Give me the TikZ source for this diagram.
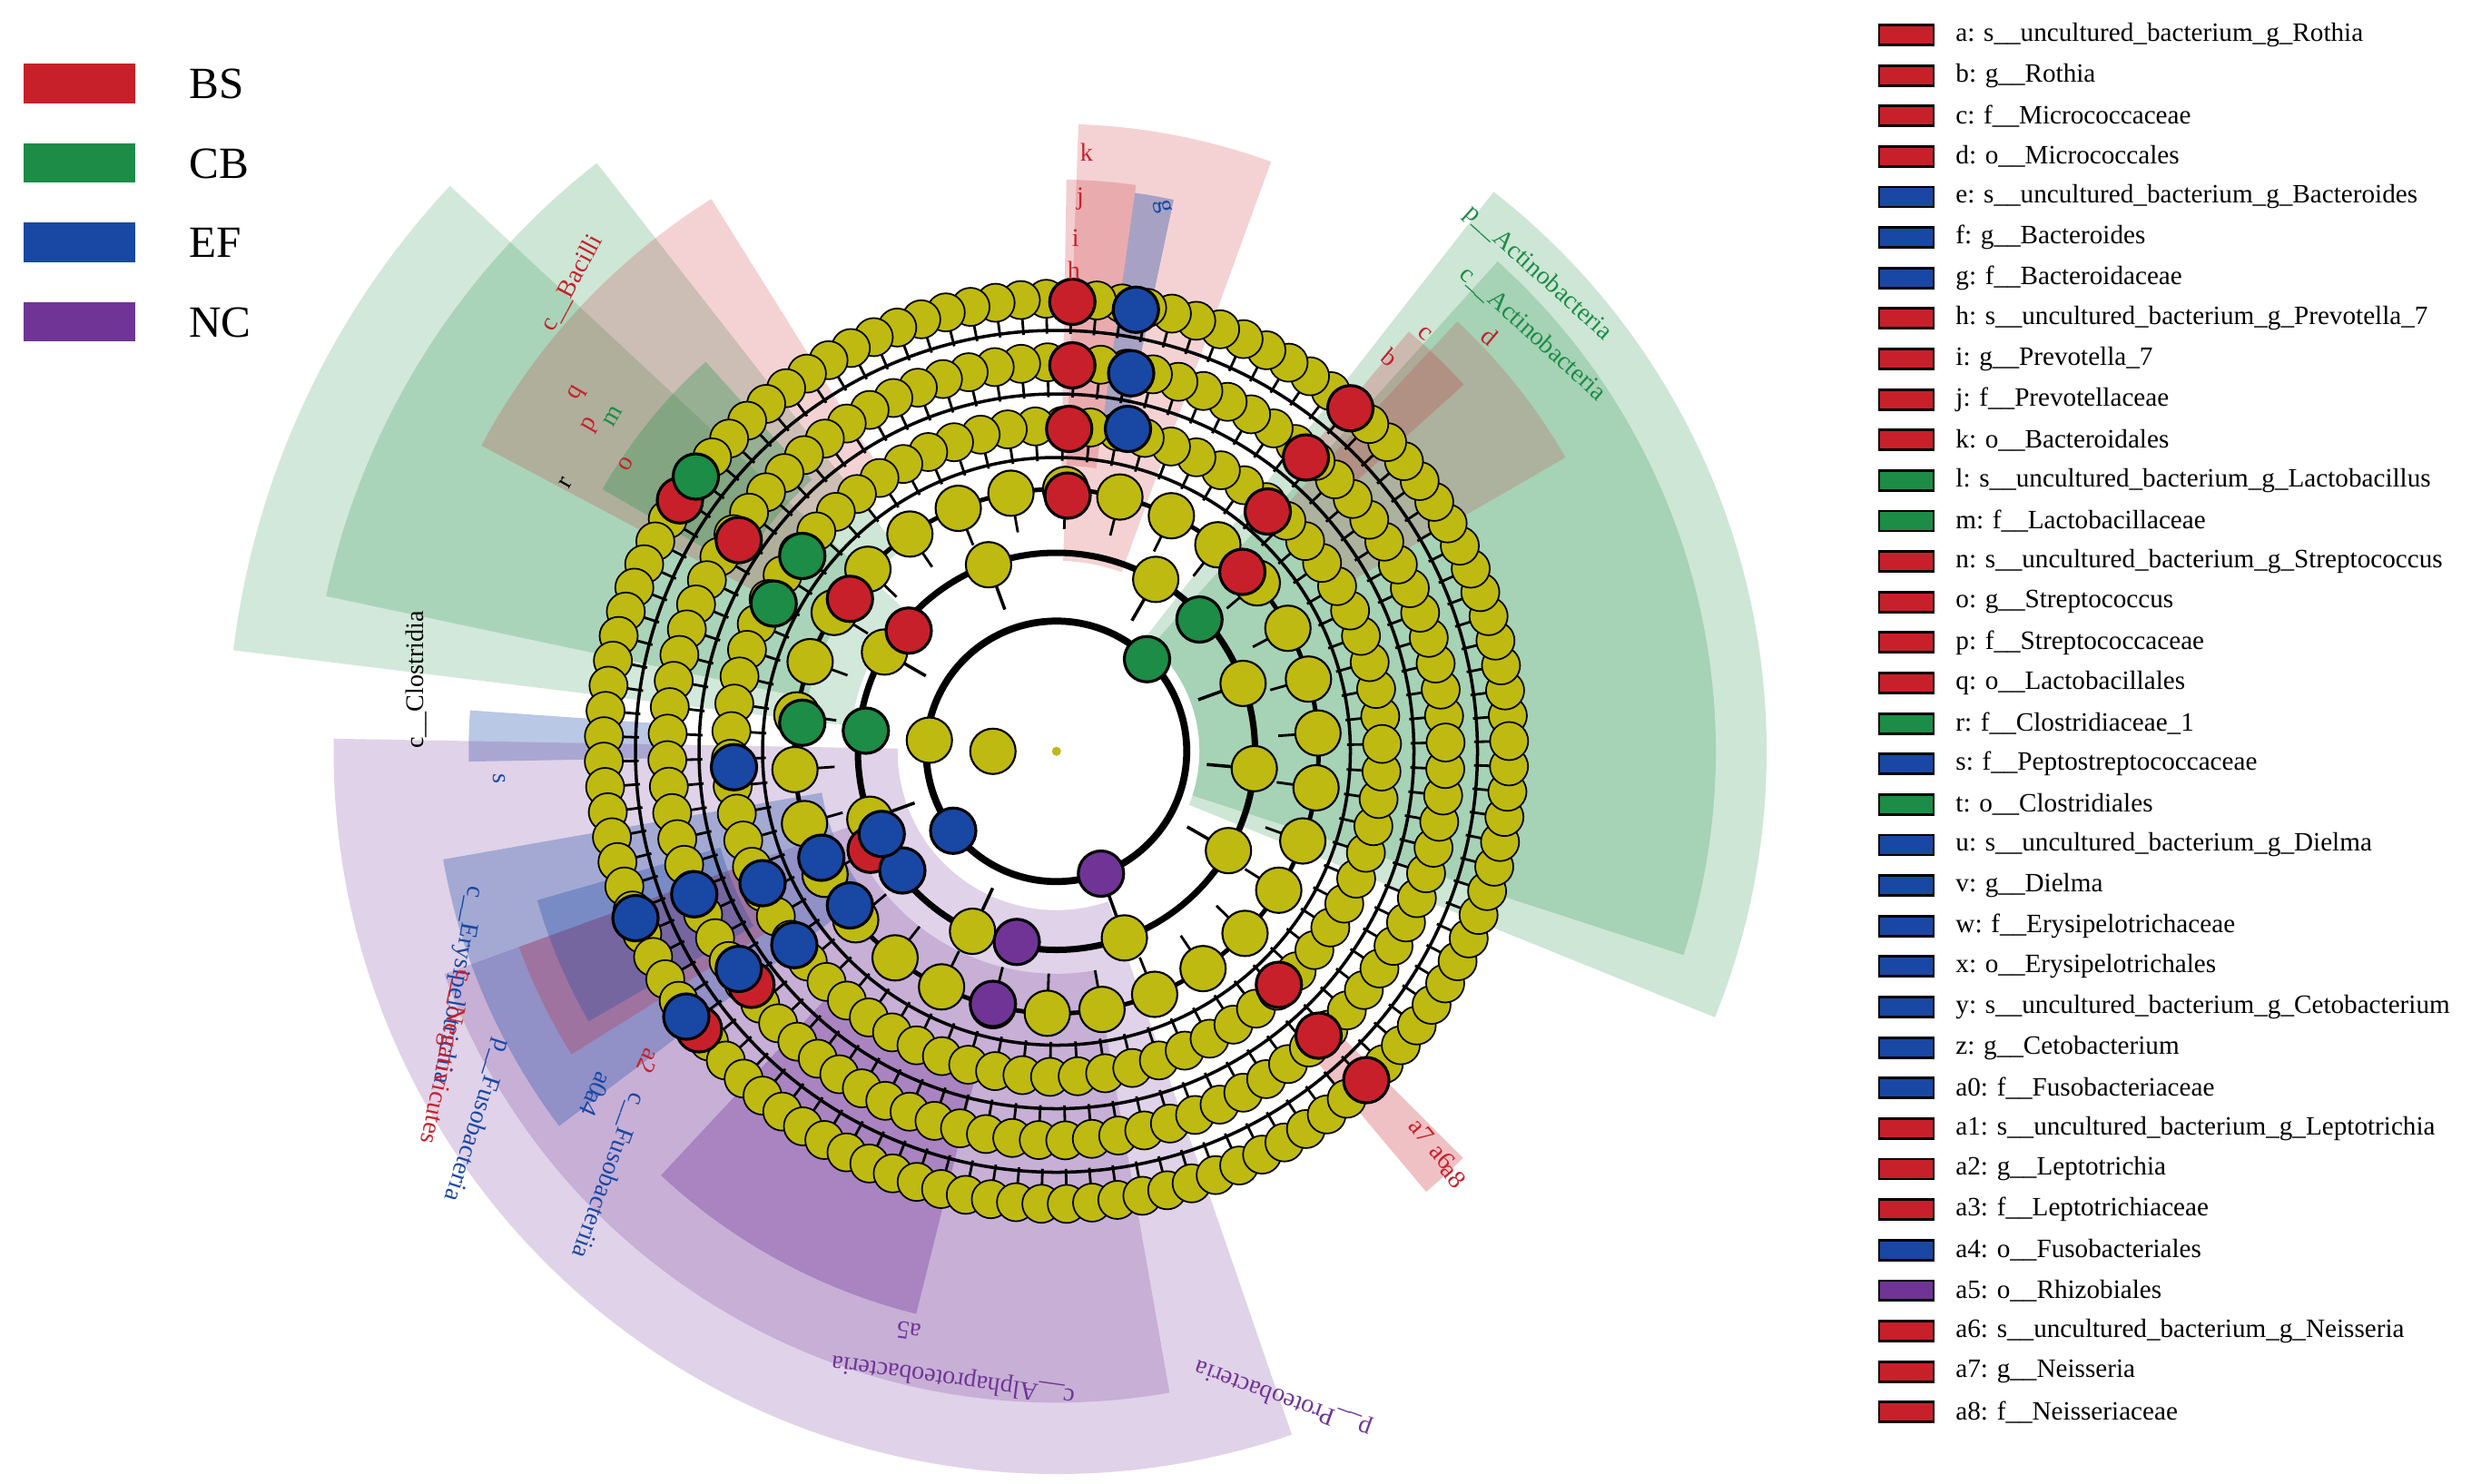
\documentclass[tikz,border=0pt]{standalone}
\usepackage{fontspec}
\setmainfont{Liberation Serif}
\definecolor{cBS}{RGB}{200,32,42}
\definecolor{cCB}{RGB}{28,140,70}
\definecolor{cEF}{RGB}{24,72,164}
\definecolor{cNC}{RGB}{112,52,150}
\definecolor{cY}{RGB}{190,186,18}
\begin{document}
\begin{tikzpicture}[x=0.0175cm,y=0.0175cm,
 yn/.style={circle,draw=black,fill=cY,line width=0.5pt,minimum size=0.42cm,inner sep=0pt},
 yb/.style={circle,draw=black,fill=cY,line width=0.6pt,minimum size=0.5cm,inner sep=0pt},
 cn/.style={circle,draw=black,fill=#1,line width=0.9pt,minimum size=0.5cm,inner sep=0pt},
 lg/.style={font=\fontsize{8.3}{9}\selectfont,anchor=west},
 wl/.style={font=\fontsize{8}{9}\selectfont},
 box/.style={draw=black,line width=0.8pt,fill=#1,minimum width=0.6cm,minimum height=0.22cm,inner sep=0pt}]
\useasboundingbox (0,0) rectangle (1568,-934);
\coordinate (O) at (665,-473);
\newcommand{\sect}[5]{\fill[#5] (#1:#3) -- (#1:#4) arc[start angle=#1,end angle=#2,radius=#4] -- (#2:#3) arc[start angle=#2,end angle=#1,radius=#3] -- cycle;}
\begin{scope}[shift={(665,-473)}]
\sect{-22}{52}{90}{447}{cCB,opacity=.22}
\sect{-18}{48}{90}{415}{cCB,opacity=.22}
\sect{30}{47}{200}{370}{cBS,opacity=.18}
\sect{42}{50}{240}{345}{cBS,opacity=.22}
\sect{70}{88}{120}{395}{cBS,opacity=.2}
\sect{82}{89}{180}{360}{cBS,opacity=.22}
\sect{78}{82}{200}{355}{cEF,opacity=.35}
\sect{137}{173}{130}{522}{cCB,opacity=.2}
\sect{128}{168}{160}{470}{cCB,opacity=.22}
\sect{122}{152}{200}{410}{cBS,opacity=.2}
\sect{132}{150}{230}{330}{cCB,opacity=.3}
\sect{176}{181}{250}{370}{cEF,opacity=.3}
\sect{179}{289}{100}{455}{cNC,opacity=.22}
\sect{200}{280}{140}{410}{cNC,opacity=.22}
\sect{227}{256}{200}{365}{cNC,opacity=.35}
\sect{190}{217}{150}{392}{cEF,opacity=.3}
\sect{200}{212}{200}{360}{cBS,opacity=.25}
\sect{196}{210}{220}{340}{cEF,opacity=.3}
\sect{-50}{-45}{250}{362}{cBS,opacity=.28}
\draw[line width=2.2pt] (0,0) circle[radius=82];
\draw[line width=2pt] (0,0) circle[radius=125];
\draw[line width=1.4pt] (0,0) circle[radius=165];
\draw[line width=1pt] (0,0) circle[radius=185];
\draw[line width=1pt] (0,0) circle[radius=225];
\draw[line width=1pt] (0,0) circle[radius=265];
\foreach \rr/\nn/\ri in {205/74/183,245/92/223,285/112/263}{
 \foreach \i in {1,...,\nn}{
  \pgfmathsetmacro\myang{360/\nn*\i+1.3}
  \draw[line width=0.8pt] (\myang:\ri) -- (\myang:\rr);
  \node[yn] (y\rr-\i) at (\myang:\rr) {};
 }}
\foreach \i in {1,...,30}{
  \pgfmathsetmacro\myang{12*\i+4}
  \draw[line width=0.8pt] (\myang:140) -- (\myang:165);
  \node[yb] (t\i) at (\myang:165) {};
 }
\foreach \myang [count=\i] in {20,60,110,150,200,245,290,330,355}{
  \draw[line width=1pt] (\myang:95) -- (\myang:125);
  \node[yb] (u\i) at (\myang:125) {};
 }
\end{scope}
\node[yb] (p1) at (625,-473) {};
\node[yb] (p2) at (585,-466) {};
\node[circle,fill=cY,minimum size=0.1cm,inner sep=0pt] (root) at (O) {};
\foreach \x/\y [count=\i] in {675/190,675/230,673/270,672/312,850/257,822/288,798/322,782/360,535/377,572/397,428/315,465/340,805/620,830/652,860/680,473/620,440/648,548/535}
 \node[cn=cBS] (r\i) at (\x,-\y) {};
\foreach \x/\y [count=\i] in {715/195,712/235,710/270,462/483,600/523,568/548,535/570,517/540,555/525,480/556,437/563,400/578,500/595,465/610,432/640}
 \node[cn=cEF] (b\i) at (\x,-\y) {};
\foreach \x/\y [count=\i] in {722/415,755/390,545/460,505/455,487/380,505/350,438/300}
 \node[cn=cCB] (g\i) at (\x,-\y) {};
\foreach \x/\y [count=\i] in {693/550,640/593,625/632}
 \node[cn=cNC] (v\i) at (\x,-\y) {};
\node[wl,text=cCB,rotate=-42] (L1) at (968,-172) {p\_\_Actinobacteria};
\node[wl,text=cCB,rotate=-42] (L2) at (965,-210) {c\_\_Actinobacteria};
\node[wl,text=cBS,rotate=62] (L3) at (360,-178) {c\_\_Bacilli};
\node[wl,text=black,rotate=90] (L4) at (262,-428) {c\_\_Clostridia};
\node[wl,text=cEF,rotate=-108] (L5) at (300,-705) {p\_\_Fusobacteria};
\node[wl,text=cEF,rotate=-110] (L6) at (383,-740) {c\_\_Fusobacteriia};
\node[wl,text=cEF,rotate=-100] (L7) at (288,-620) {c\_\_Erysipelotrichia};
\node[wl,text=cBS,rotate=-102] (L8) at (280,-665) {c\_\_Negativicutes};
\node[wl,text=cNC,rotate=172] (L9) at (600,-868) {c\_\_Alphaproteobacteria};
\node[wl,text=cNC,rotate=160] (L10) at (808,-880) {p\_\_Proteobacteria};
\foreach \t/\x/\y/\c/\r [count=\i] in {k/684/-96/cBS/0,j/680/-125/cBS/0,i/677/-150/cBS/0,h/676/-170/cBS/0,g/732/-130/cEF/-80,b/875/-225/cBS/-40,c/897/-210/cBS/-40,d/938/-212/cBS/-40,q/363/-248/cBS/60,p/372/-268/cBS/60,m/386/-262/cCB/60,o/394/-292/cBS/60,r/356/-304/black/60,s/314/-490/cEF/-90,a5/572/-838/cNC/172,a6/908/-728/cBS/-50,a7/895/-712/cBS/-50,a8/915/-740/cBS/-50,a0/378/-683/cEF/-115,a2/408/-668/cBS/-115,a4/372/-695/cEF/-115}
 \node[wl,text=\c,rotate=\r] (sl\i) at (\x,\y) {\t};
\foreach \c/\t [count=\i] in {cBS/BS,cCB/CB,cEF/EF,cNC/NC}{
 \fill[\c] (15,-40-50*\i+50) rectangle (85,-65-50*\i+50);
 \node[anchor=west,font=\fontsize{14}{16}\selectfont] (ll\i) at (112,-53-50*\i+50) {\t};
}
\foreach \c/\t [count=\i] in {
cBS/{a: s\_\_uncultured\_bacterium\_g\_Rothia},
cBS/{b: g\_\_Rothia},
cBS/{c: f\_\_Micrococcaceae},
cBS/{d: o\_\_Micrococcales},
cEF/{e: s\_\_uncultured\_bacterium\_g\_Bacteroides},
cEF/{f: g\_\_Bacteroides},
cEF/{g: f\_\_Bacteroidaceae},
cBS/{h: s\_\_uncultured\_bacterium\_g\_Prevotella\_7},
cBS/{i: g\_\_Prevotella\_7},
cBS/{j: f\_\_Prevotellaceae},
cBS/{k: o\_\_Bacteroidales},
cCB/{l: s\_\_uncultured\_bacterium\_g\_Lactobacillus},
cCB/{m: f\_\_Lactobacillaceae},
cBS/{n: s\_\_uncultured\_bacterium\_g\_Streptococcus},
cBS/{o: g\_\_Streptococcus},
cBS/{p: f\_\_Streptococcaceae},
cBS/{q: o\_\_Lactobacillales},
cCB/{r: f\_\_Clostridiaceae\_1},
cEF/{s: f\_\_Peptostreptococcaceae},
cCB/{t: o\_\_Clostridiales},
cEF/{u: s\_\_uncultured\_bacterium\_g\_Dielma},
cEF/{v: g\_\_Dielma},
cEF/{w: f\_\_Erysipelotrichaceae},
cEF/{x: o\_\_Erysipelotrichales},
cEF/{y: s\_\_uncultured\_bacterium\_g\_Cetobacterium},
cEF/{z: g\_\_Cetobacterium},
cEF/{a0: f\_\_Fusobacteriaceae},
cBS/{a1: s\_\_uncultured\_bacterium\_g\_Leptotrichia},
cBS/{a2: g\_\_Leptotrichia},
cBS/{a3: f\_\_Leptotrichiaceae},
cEF/{a4: o\_\_Fusobacteriales},
cNC/{a5: o\_\_Rhizobiales},
cBS/{a6: s\_\_uncultured\_bacterium\_g\_Neisseria},
cBS/{a7: g\_\_Neisseria},
cBS/{a8: f\_\_Neisseriaceae}}{
 \node[box=\c] (bx\i) at (1200,-22-25.5*\i+25.5) {};
 \node[lg] (lt\i) at (1224,-22-25.5*\i+25.5) {\t};
}
\end{tikzpicture}
\end{document}
